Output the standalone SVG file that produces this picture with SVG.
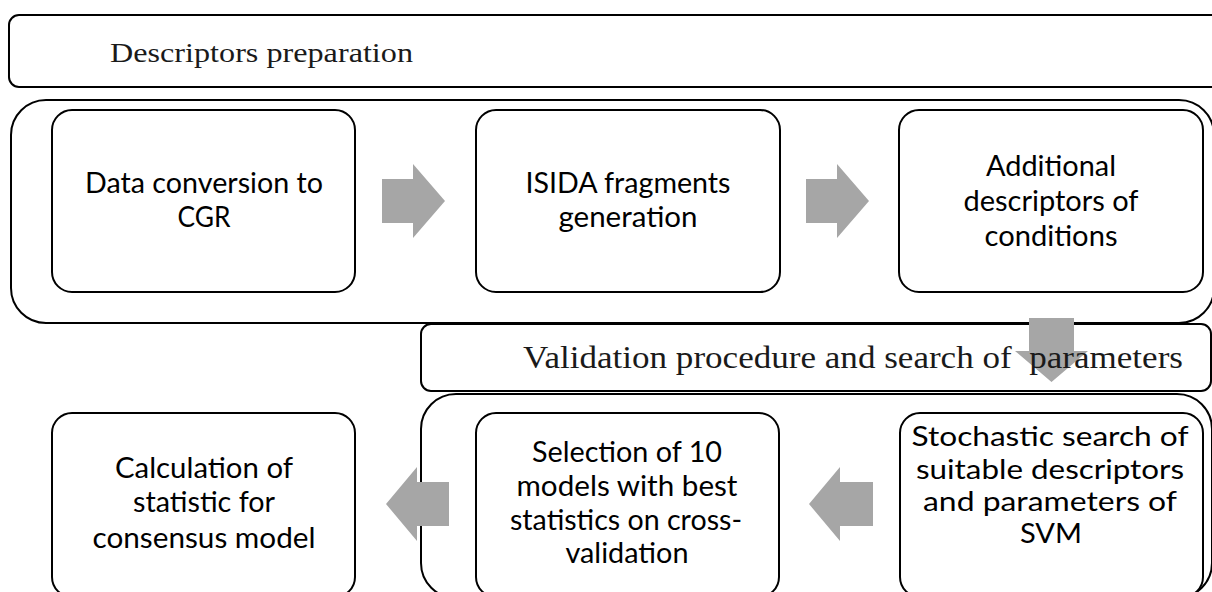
<svg xmlns="http://www.w3.org/2000/svg" width="1212" height="592" viewBox="0 0 1212 592">
<style>
.frame{fill:none;stroke:#000;stroke-width:2}
.box{fill:#fff;stroke:#000;stroke-width:2}
.hdr{font-family:"Liberation Serif","Times New Roman",serif;fill:#1a1a1a}
.lbl{font-family:Lato,"Liberation Sans",sans-serif;font-size:29px;fill:#000;text-anchor:middle}
.lbl.sm{font-size:27px}
.arrow{fill:#a6a6a6;stroke:none}
</style>
<rect width="1212" height="592" fill="#fff"/>
<g id="descriptors-header">
<rect class="frame" x="9" y="15" width="1220" height="72" rx="10"/>
<text class="hdr" x="110" y="62" font-size="28" textLength="303" lengthAdjust="spacingAndGlyphs">Descriptors preparation</text>
</g>
<g id="descriptors-group">
<rect class="frame" x="11" y="100" width="1203" height="223" rx="35"/>
</g>
<g id="node-data-conversion">
<rect class="box" x="52" y="110" width="303" height="182" rx="20"/>
<text class="lbl" x="204" y="193" textLength="238" lengthAdjust="spacingAndGlyphs">Data conversion to</text>
<text class="lbl" x="204" y="227" textLength="53" lengthAdjust="spacingAndGlyphs">CGR</text>
</g>
<g id="node-isida">
<rect class="box" x="476" y="110" width="304" height="182" rx="20"/>
<text class="lbl" x="628" y="193" textLength="205" lengthAdjust="spacingAndGlyphs">ISIDA fragments</text>
<text class="lbl" x="628" y="227" textLength="139" lengthAdjust="spacingAndGlyphs">generation</text>
</g>
<g id="node-additional">
<rect class="box" x="899" y="110" width="304" height="182" rx="20"/>
<text class="lbl" x="1051" y="176" textLength="130" lengthAdjust="spacingAndGlyphs">Additional</text>
<text class="lbl" x="1051" y="211" textLength="175" lengthAdjust="spacingAndGlyphs">descriptors of</text>
<text class="lbl" x="1051" y="246" textLength="133" lengthAdjust="spacingAndGlyphs">conditions</text>
</g>
<g id="validation-header">
<rect class="frame" x="421" y="324" width="790" height="67" rx="10"/>
</g>
<g id="validation-group">
<rect class="frame" x="421" y="394" width="791" height="204" rx="35"/>
</g>
<g id="node-calculation">
<rect class="box" x="52" y="413" width="303" height="184" rx="20"/>
<text class="lbl" x="204" y="478" textLength="178" lengthAdjust="spacingAndGlyphs">Calculation of</text>
<text class="lbl" x="204" y="512" textLength="142" lengthAdjust="spacingAndGlyphs">statistic for</text>
<text class="lbl" x="204" y="548" textLength="223" lengthAdjust="spacingAndGlyphs">consensus model</text>
</g>
<g id="node-selection">
<rect class="box" x="476" y="413" width="303" height="184" rx="20"/>
<text class="lbl" x="627" y="462" textLength="190" lengthAdjust="spacingAndGlyphs">Selection of 10</text>
<text class="lbl" x="627" y="496" textLength="221" lengthAdjust="spacingAndGlyphs">models with best</text>
<text class="lbl" x="626" y="530" textLength="232" lengthAdjust="spacingAndGlyphs">statistics on cross-</text>
<text class="lbl" x="627" y="563" textLength="123" lengthAdjust="spacingAndGlyphs">validation</text>
</g>
<g id="node-stochastic">
<rect class="box" x="900" y="413" width="303" height="184" rx="20"/>
<text class="lbl sm" x="1050" y="446" textLength="277" lengthAdjust="spacingAndGlyphs">Stochastic search of</text>
<text class="lbl sm" x="1050" y="479" textLength="268" lengthAdjust="spacingAndGlyphs">suitable descriptors</text>
<text class="lbl sm" x="1050" y="511" textLength="254" lengthAdjust="spacingAndGlyphs">and parameters of</text>
<text class="lbl sm" x="1051" y="543" textLength="62" lengthAdjust="spacingAndGlyphs">SVM</text>
</g>
<g id="connectors">
<polygon class="arrow" points="382,179 413,179 413,164 445,201 413,238 413,223 382,223"/>
<polygon class="arrow" points="806,179 837,179 837,164 869,201 837,238 837,223 806,223"/>
<polygon class="arrow" points="1029,318 1074,318 1074,351 1088,351 1051.5,382 1015,351 1029,351"/>
<polygon class="arrow" points="873,482 840,482 840,467 809,504 840,541 840,526 873,526"/>
<polygon class="arrow" points="449,482 417,482 417,467 386,504 417,541 417,526 449,526"/>
</g>
<g id="validation-header-label">
<text class="hdr" x="523" y="368" font-size="31" textLength="660" lengthAdjust="spacingAndGlyphs" xml:space="preserve">Validation procedure and search of  parameters</text>
</g>
</svg>
